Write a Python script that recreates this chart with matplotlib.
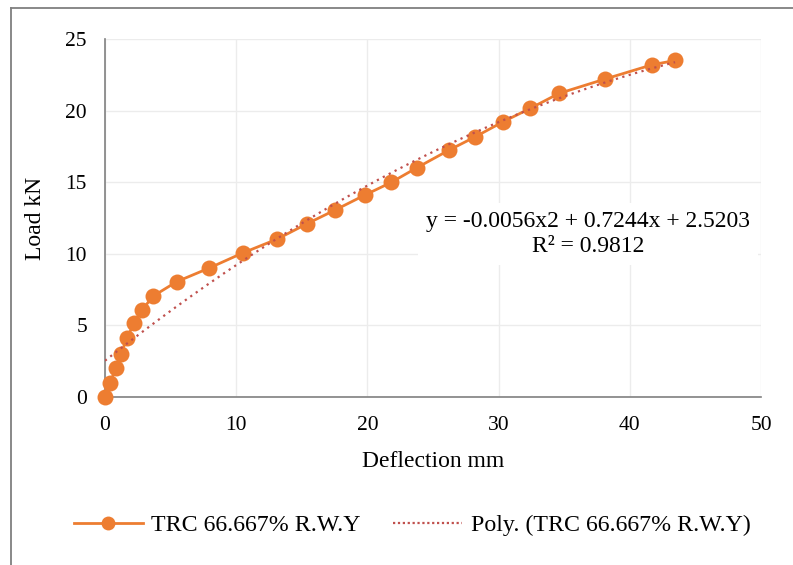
import matplotlib.pyplot as plt
import numpy as np
from matplotlib.lines import Line2D

plt.rcParams['font.family'] = ['Liberation Serif', 'DejaVu Serif']

# deflection (mm) and load (kN)
deflection = [0, 0.38, 0.84, 1.2, 1.68, 2.2, 2.84, 3.68, 5.46, 7.93, 10.5,
              13.13, 15.4, 17.5, 19.8, 21.8, 23.75, 26.2, 28.2, 30.3, 32.4,
              34.6, 38.1, 41.7, 43.45]
load = [0, 1.0, 2.0, 3.0, 4.1, 5.15, 6.1, 7.05, 8.05, 9.0, 10.06,
        11.03, 12.1, 13.04, 14.1, 14.98, 16.0, 17.23, 18.16, 19.2, 20.15,
        21.2, 22.2, 23.2, 23.5]
series_name = 'TRC 66.667% R.W.Y'
trend_name = 'Poly. (TRC 66.667% R.W.Y)'
eq_text = 'y = -0.0056x2 + 0.7244x + 2.5203\nR² = 0.9812'
x_ticks = [0, 10, 20, 30, 40, 50]
y_ticks = [0, 5, 10, 15, 20, 25]

orange = '#ED7D31'
red = '#C0504D'

W, H = 793, 565
fig = plt.figure(figsize=(W / 100, H / 100), dpi=100)
ax = fig.add_axes([105 / W, 1 - 397 / H, (761 - 105) / W, (397 - 39) / H])

# polynomial trendline (order 2), like Excel does
coef = np.polyfit(deflection, load, 2)
xs = np.linspace(min(deflection), max(deflection), 200)
ax.plot(xs, np.polyval(coef, xs), color=red, lw=1.6, ls=(0, (1, 2)), zorder=4)

ax.plot(deflection, load, color=orange, lw=2, marker='o', ms=11.5,
        markeredgewidth=0, zorder=3, clip_on=False)

ax.set_xlim(0, 50)
ax.set_ylim(0, 25)
ax.set_xticks(x_ticks)
ax.set_yticks(y_ticks)
ax.grid(True, color='#ececec', lw=1)
ax.set_axisbelow(True)
for s in ['top', 'right']:
    ax.spines[s].set_visible(False)
for s in ['left', 'bottom']:
    ax.spines[s].set_color('#808080')
    ax.spines[s].set_linewidth(1.2)
ax.tick_params(length=0, labelsize=15.5)
ax.tick_params(axis='y', pad=13)
ax.tick_params(axis='x', pad=14)
ax.set_xlabel('Deflection mm', fontsize=17, labelpad=11)
ax.set_ylabel('Load kN', fontsize=17, labelpad=14)

ax.text(588 / W, 1 - 234 / H, eq_text, transform=fig.transFigure,
        ha='center', va='center', fontsize=17, linespacing=1.25,
        bbox=dict(facecolor='white', edgecolor='none', pad=6), zorder=5)

handles = [Line2D([], [], color=orange, lw=2, marker='o', ms=10, markeredgewidth=0),
           Line2D([], [], color=red, lw=1.6, ls=(0, (1, 1.2)))]
fig.legend(handles, [series_name, trend_name], loc='center',
           bbox_to_anchor=(412 / W, 1 - 525 / H), ncol=2, frameon=False,
           fontsize=17.2, handlelength=2.9, columnspacing=1.35, handletextpad=0.35)

# chart area border (left and top edges visible)
fig.add_artist(Line2D([11 / W, 11 / W], [0, 1 - 8 / H], transform=fig.transFigure,
                      color='#7f7f7f', lw=1.3))
fig.add_artist(Line2D([11 / W, 1], [1 - 8 / H, 1 - 8 / H], transform=fig.transFigure,
                      color='#7f7f7f', lw=1.3))

fig.savefig('out.png', dpi=100)
